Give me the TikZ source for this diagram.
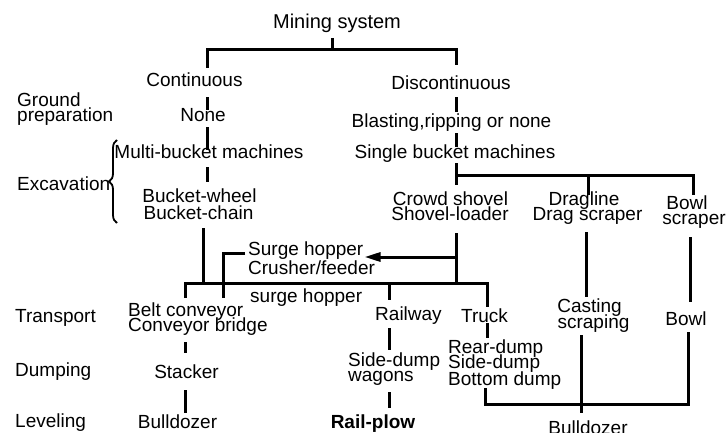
\documentclass[tikz,border=0pt]{standalone}
\usepackage{fontspec}
\setmainfont{Liberation Sans}
\usetikzlibrary{arrows.meta,decorations.pathreplacing,calc}
\begin{document}
\begin{tikzpicture}[x=1pt,y=-1pt,
  conn/.style={line width=3pt},
  txt/.style={inner sep=0pt,anchor=base,text height=13.5pt,text depth=4pt,font=\fontsize{19}{16}\selectfont},
  txtw/.style={txt,anchor=base west}]
\fill[white] (0,0) rectangle (726,433);
\useasboundingbox (0,0) rectangle (726,433);
% column / level coordinates
\coordinate (tick) at (332,0);
\coordinate (xC) at (207,0);
\coordinate (xB) at (203,0);
\coordinate (xD) at (456,0);
\coordinate (xL) at (185,0);
\coordinate (xS) at (223,0);
\coordinate (xR) at (389,0);
\coordinate (xT) at (487,0);
\coordinate (xT2) at (485,0);
\coordinate (xDr) at (586,0);
\coordinate (xDr2) at (588,0);
\coordinate (xCa) at (581,0);
\coordinate (xBo) at (690,0);
\coordinate (xBo2) at (688,0);
\coordinate (xBR) at (693,0);
\coordinate (topbar) at (0,50);
\coordinate (bar1) at (0,176);
\coordinate (bar2) at (0,283);
\coordinate (bar3) at (0,404);
\coordinate (arrowy) at (0,257);
% texts
\node[txt,font=\fontsize{20}{16}\selectfont] (title) at (337,29) {Mining system};
\node[txt] (cont) at (194.5,87) {Continuous};
\node[txt] (disc) at (451,90) {Discontinuous};
\node[txtw] (gr1) at (17,107) {Ground};
\node[txtw] (gr2) at (17,122) {preparation};
\node[txt] (none) at (203,122) {None};
\node[txt] (blast) at (451.5,128) {Blasting,ripping or none};
\node[txt] (multi) at (209,159) {Multi-bucket machines};
\node[txt] (single) at (455,159) {Single bucket machines};
\node[txtw] (exc) at (17,191) {Excavation};
\node[txt] (bw) at (199.5,203) {Bucket-wheel};
\node[txt] (bc) at (198.5,219) {Bucket-chain};
\node[txt] (crowd) at (450.5,206) {Crowd shovel};
\node[txt] (shl) at (450,221) {Shovel-loader};
\node[txt] (drag) at (584,206) {Dragline};
\node[txt] (dsc) at (587.5,221) {Drag scraper};
\node[txt] (bowl1) at (687,209) {Bowl};
\node[txt] (bscr) at (694,225) {scraper};
\node[txtw] (sh1) at (248,255) {Surge hopper};
\node[txtw] (sh2) at (248,274) {Crusher/feeder};
\node[txtw] (sh3) at (250,302) {surge hopper};
\node[txtw] (trans) at (15,322) {Transport};
\node[txtw] (belt) at (128,316) {Belt conveyor};
\node[txtw] (cbr) at (128,331) {Conveyor bridge};
\node[txt] (rail) at (408.5,320) {Railway};
\node[txt] (truck) at (484.5,322) {Truck};
\node[txt] (cast) at (589.5,312) {Casting};
\node[txt] (scrp) at (593.5,328) {scraping};
\node[txt] (bowl2) at (686,325) {Bowl};
\node[txtw] (dump) at (15,376) {Dumping};
\node[txt] (stack) at (186.5,378) {Stacker};
\node[txtw] (sd1) at (348,366) {Side-dump};
\node[txtw] (sd2) at (348,381) {wagons};
\node[txtw] (rd1) at (448,353) {Rear-dump};
\node[txtw] (rd2) at (448,368) {Side-dump};
\node[txtw] (rd3) at (448,385) {Bottom dump};
\node[txtw] (lev) at (15,427) {Leveling};
\node[txt] (bull1) at (177.5,428) {Bulldozer};
\node[txt,font=\fontsize{19}{16}\selectfont\bfseries] (rplow) at (373,428) {Rail-plow};
\node[txt] (bull2) at (588,434) {Bulldozer};
% brace
\draw[line width=1.8pt,decorate,decoration={brace,amplitude=8pt}] (117,223) -- (117,140);
% connectors
\draw[conn] ([yshift=-9pt]title.base -| tick) -- (tick |- topbar);
\draw[conn] ([yshift=5.5pt]cont.north -| xC) |- (xD |- topbar) -- ([yshift=11.5pt]disc.north -| xD);
\draw[conn] ([yshift=-6pt]cont.south -| xC) -- ([yshift=-1.5pt]none.north -| xC);
\draw[conn] ([yshift=-1pt]none.south -| xC) -- ([yshift=-4.5pt]multi.north -| xC);
\draw[conn] ([yshift=-4pt]multi.south -| xC) -- ([yshift=7.5pt]bw.north -| xC);
\draw[conn] ([yshift=-5pt]bc.south -| xB) -- (xB |- bar2);
\draw[conn] ([yshift=4.5pt]belt.north -| xL) |- (xT |- bar2) -- ([yshift=1.5pt]truck.north -| xT);
\draw[conn] (xR |- bar2) -- ([yshift=6.5pt]rail.north -| xR);
\draw[conn] ([xshift=-3pt,yshift=2pt]sh1.base west) -| ([yshift=4.5pt]belt.north -| xS);
\draw[conn] ([yshift=-3pt]disc.south -| xD) -- ([yshift=2.5pt]blast.north -| xD);
\draw[conn] ([yshift=-1pt]blast.south -| xD) -- ([yshift=-1.5pt]single.north -| xD);
\draw[conn] (single.south -| xD) -- ([yshift=7.5pt]crowd.north -| xD);
\draw[conn] (xD |- bar1) -| ([yshift=0.5pt]bowl1.north -| xBR);
\draw[conn] (xDr2 |- bar1) -- ([yshift=-2.5pt]drag.north -| xDr2);
\draw[conn] ([yshift=-8pt]shl.south -| xD) -- (xD |- bar2);
\draw[conn,-{Triangle[length=16pt,width=9pt]}] (xD |- arrowy) -- ([xshift=1pt]sh1.east |- arrowy);
\draw[conn] ([yshift=-7pt]cbr.south -| xL) -- ([yshift=11.5pt]stack.north -| xL);
\draw[conn] ([yshift=-8pt]stack.south -| xL) -- ([yshift=1.5pt]bull1.north -| xL);
\draw[conn] ([yshift=-4pt]rail.south -| xR) -- ([yshift=2.5pt]sd1.north -| xR);
\draw[conn] ([yshift=-7pt]sd2.south -| xR) -- ([yshift=6.5pt]rplow.north -| xR);
\draw[conn] ([yshift=3pt]truck.south -| xT) -- ([yshift=1.5pt]rd1.north -| xT);
\draw[conn] ([yshift=1pt]rd3.south -| xT2) |- (xBo2 |- bar3) -- ([yshift=-3pt]bowl2.south -| xBo2);
\draw[conn] ([yshift=-7pt]dsc.south -| xDr) -- ([yshift=1.5pt]cast.north -| xDr);
\draw[conn] ([yshift=-3pt]scrp.south -| xCa) -- ([yshift=7.5pt]bull2.north -| xCa);
\draw[conn] ([yshift=-8pt]bscr.south -| xBo) -- ([yshift=9.5pt]bowl2.north -| xBo);
\end{tikzpicture}
\end{document}
